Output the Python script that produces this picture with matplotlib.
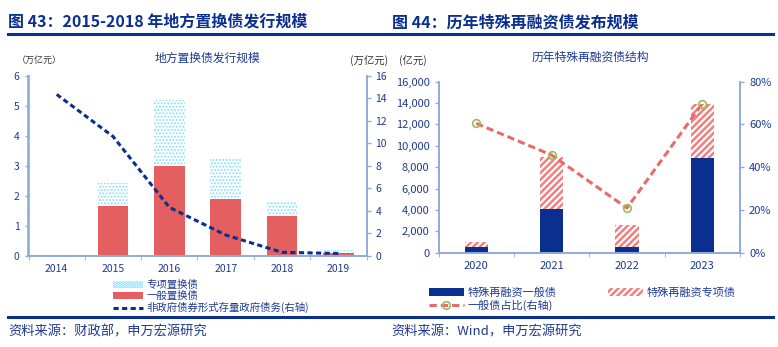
import numpy as np
import matplotlib
matplotlib.use("Agg")
import matplotlib.pyplot as plt
from matplotlib.ticker import FuncFormatter, MultipleLocator

plt.rcParams['font.family'] = ['Noto Sans CJK SC', 'DejaVu Sans']
plt.rcParams['hatch.linewidth'] = 1.8
plt.rcParams['axes.unicode_minus'] = False

# 数据 - 左图
years_l = ['2014', '2015', '2016', '2017', '2018', '2019']
general_swap = [0, 1.67, 3.0, 1.9, 1.32, 0.1]      # 一般置换债 (万亿元)
special_swap = [0, 0.76, 2.19, 1.33, 0.5, 0.09]    # 专项置换债 (万亿元)
nonbond_debt = [14.34, 10.6, 4.3, 1.84, 0.3, 0.2]  # 非政府债券形式存量政府债务 (万亿元, 右轴)

# 数据 - 右图
years_r = ['2020', '2021', '2022', '2023']
refi_general = [540, 4055, 500, 8890]     # 特殊再融资一般债 (亿元)
refi_special = [430, 4865, 2120, 5050]    # 特殊再融资专项债 (亿元)
general_share = [60.5, 45.7, 20.9, 69.7]  # 一般债占比 (%, 右轴)

W, H = 778, 347
NAVY = '#0A2F8F'
TXT = '#1F3A93'
SPINE = '#8FAADC'
RED = '#E45F5F'
CYAN = '#7FDCFF'
GREEN = '#9BBB59'

fig = plt.figure(figsize=(W / 100, H / 100), dpi=100)


def px(x, y):
    return x / W, 1 - y / H


def style_axes(ax, ax2):
    for a in (ax, ax2):
        a.spines['top'].set_visible(False)
        for s in ('left', 'right', 'bottom'):
            a.spines[s].set_color(SPINE)
            a.spines[s].set_linewidth(1.2)
        a.tick_params(colors=SPINE, labelcolor=TXT, labelsize=7.5, length=3, width=1)
    ax.tick_params(axis='x', length=0, pad=6)


# ---------- 左图 ----------
axL = fig.add_axes([28.5 / W, 91.3 / H, 338 / W, 180 / H])
xl = np.arange(len(years_l))
axL.bar(xl, general_swap, width=0.55, color=RED, label='一般置换债', zorder=2)
with plt.rc_context({'hatch.linewidth': 0.9}):
    spec_bars = axL.bar(xl, special_swap, width=0.55, bottom=general_swap, color='white',
                        edgecolor=CYAN, linewidth=0, hatch='.....', label='专项置换债', zorder=2)
axL.set_xlim(-0.5, len(years_l) - 0.5)
axL.set_ylim(0, 6)
axL.yaxis.set_major_locator(MultipleLocator(1))
axL.set_xticks(xl)
axL.set_xticklabels(years_l)
axL.set_xticks(np.arange(-0.5, len(years_l)), minor=True)
axL2 = axL.twinx()
lineL, = axL2.plot(xl, nonbond_debt, color=NAVY, lw=2.2, dashes=(1.7, 1.1),
                   label='非政府债券形式存量政府债务(右轴)', zorder=3)
axL2.set_ylim(0, 16)
axL2.yaxis.set_major_locator(MultipleLocator(2))
style_axes(axL, axL2)
axL.tick_params(axis='x', which='minor', length=3, color=SPINE)

hL, lL = axL.get_legend_handles_labels()
fig.legend([hL[1], hL[0], lineL], [lL[1], lL[0], lineL.get_label()],
           loc='upper left', bbox_to_anchor=px(108, 275), frameon=False,
           fontsize=7.5, handlelength=2.9, handletextpad=0.3, labelspacing=0.08,
           borderpad=0, labelcolor=TXT)

# ---------- 右图 ----------
axR = fig.add_axes([438.5 / W, 94.3 / H, 301.5 / W, 171 / H])
xr = np.arange(len(years_r))
axR.bar(xr, refi_general, width=0.31, color=NAVY, label='特殊再融资一般债', zorder=2)
axR.bar(xr, refi_special, width=0.31, bottom=refi_general, color='white',
        edgecolor='#F08080', linewidth=0, hatch='/////', label='特殊再融资专项债', zorder=2)
axR.set_xlim(-0.5, len(years_r) - 0.5)
axR.set_ylim(0, 16000)
axR.yaxis.set_major_locator(MultipleLocator(2000))
axR.yaxis.set_major_formatter(FuncFormatter(lambda v, p: f'{int(v):,}'))
axR.set_xticks(xr)
axR.set_xticklabels(years_r)
axR.set_xticks(np.arange(-0.5, len(years_r)), minor=True)
axR2 = axR.twinx()
lineR, = axR2.plot(xr, general_share, color='#E86A6A', lw=2.2, dashes=(2.4, 1.3),
                   marker='o', markersize=5.5, markerfacecolor='none',
                   markeredgecolor=GREEN, markeredgewidth=1.2,
                   label='一般债占比(右轴)', zorder=3)
axR2.set_ylim(0, 80)
axR2.yaxis.set_major_locator(MultipleLocator(20))
axR2.yaxis.set_major_formatter(FuncFormatter(lambda v, p: f'{int(v)}%'))
style_axes(axR, axR2)
axR.tick_params(axis='x', which='minor', length=3, color=SPINE)
for a in (axR, axR2):
    a.tick_params(labelsize=8)

hR, lR = axR.get_legend_handles_labels()
fig.legend([hR[0], lineR, hR[1]], [lR[0], lineR.get_label(), lR[1]],
           ncol=2, loc='upper left', bbox_to_anchor=px(423, 282), frameon=False,
           fontsize=8, handlelength=3.2, handletextpad=0.3, labelspacing=0.12,
           columnspacing=4.6, borderpad=0, labelcolor=TXT)

# ---------- 标题与文字 ----------
fig.text(*px(8, 22), '图 43：2015-2018 年地方置换债发行规模', fontsize=11.5,
         fontweight='bold', color=NAVY, va='center')
fig.text(*px(392, 22), '图 44：历年特殊再融资债发布规模', fontsize=11.5,
         fontweight='bold', color=NAVY, va='center')
fig.add_artist(plt.Line2D([8 / W, 388 / W], [1 - 33.5 / H] * 2, color='#0A2F8F', lw=2.2))
fig.add_artist(plt.Line2D([390 / W, 773 / W], [1 - 33.5 / H] * 2, color='#0A2F8F', lw=2.2))
fig.add_artist(plt.Line2D([8 / W, 388 / W], [1 - 317 / H] * 2, color='#0A2F8F', lw=2.2))
fig.add_artist(plt.Line2D([390 / W, 773 / W], [1 - 317 / H] * 2, color='#0A2F8F', lw=2.2))

fig.text(*px(207, 58), '地方置换债发行规模', fontsize=8.5, color=TXT, ha='center', va='center')
fig.text(*px(17, 60), '（万亿元）', fontsize=6.5, color='#333333', va='center')
fig.text(*px(388, 61), '(万亿元)', fontsize=7.5, color='#333333', va='center', ha='right')

fig.text(*px(590, 57), '历年特殊再融资债结构', fontsize=8.5, color=TXT, ha='center', va='center')
fig.text(*px(399, 61), '(亿元)', fontsize=7.5, color='#333333', va='center')

fig.text(*px(8, 332), '资料来源：财政部，申万宏源研究', fontsize=9.5, color=TXT, va='center')
fig.text(*px(391, 332), '资料来源：Wind，申万宏源研究', fontsize=9.5, color=TXT, va='center')

fig.savefig('out.png', dpi=100)
